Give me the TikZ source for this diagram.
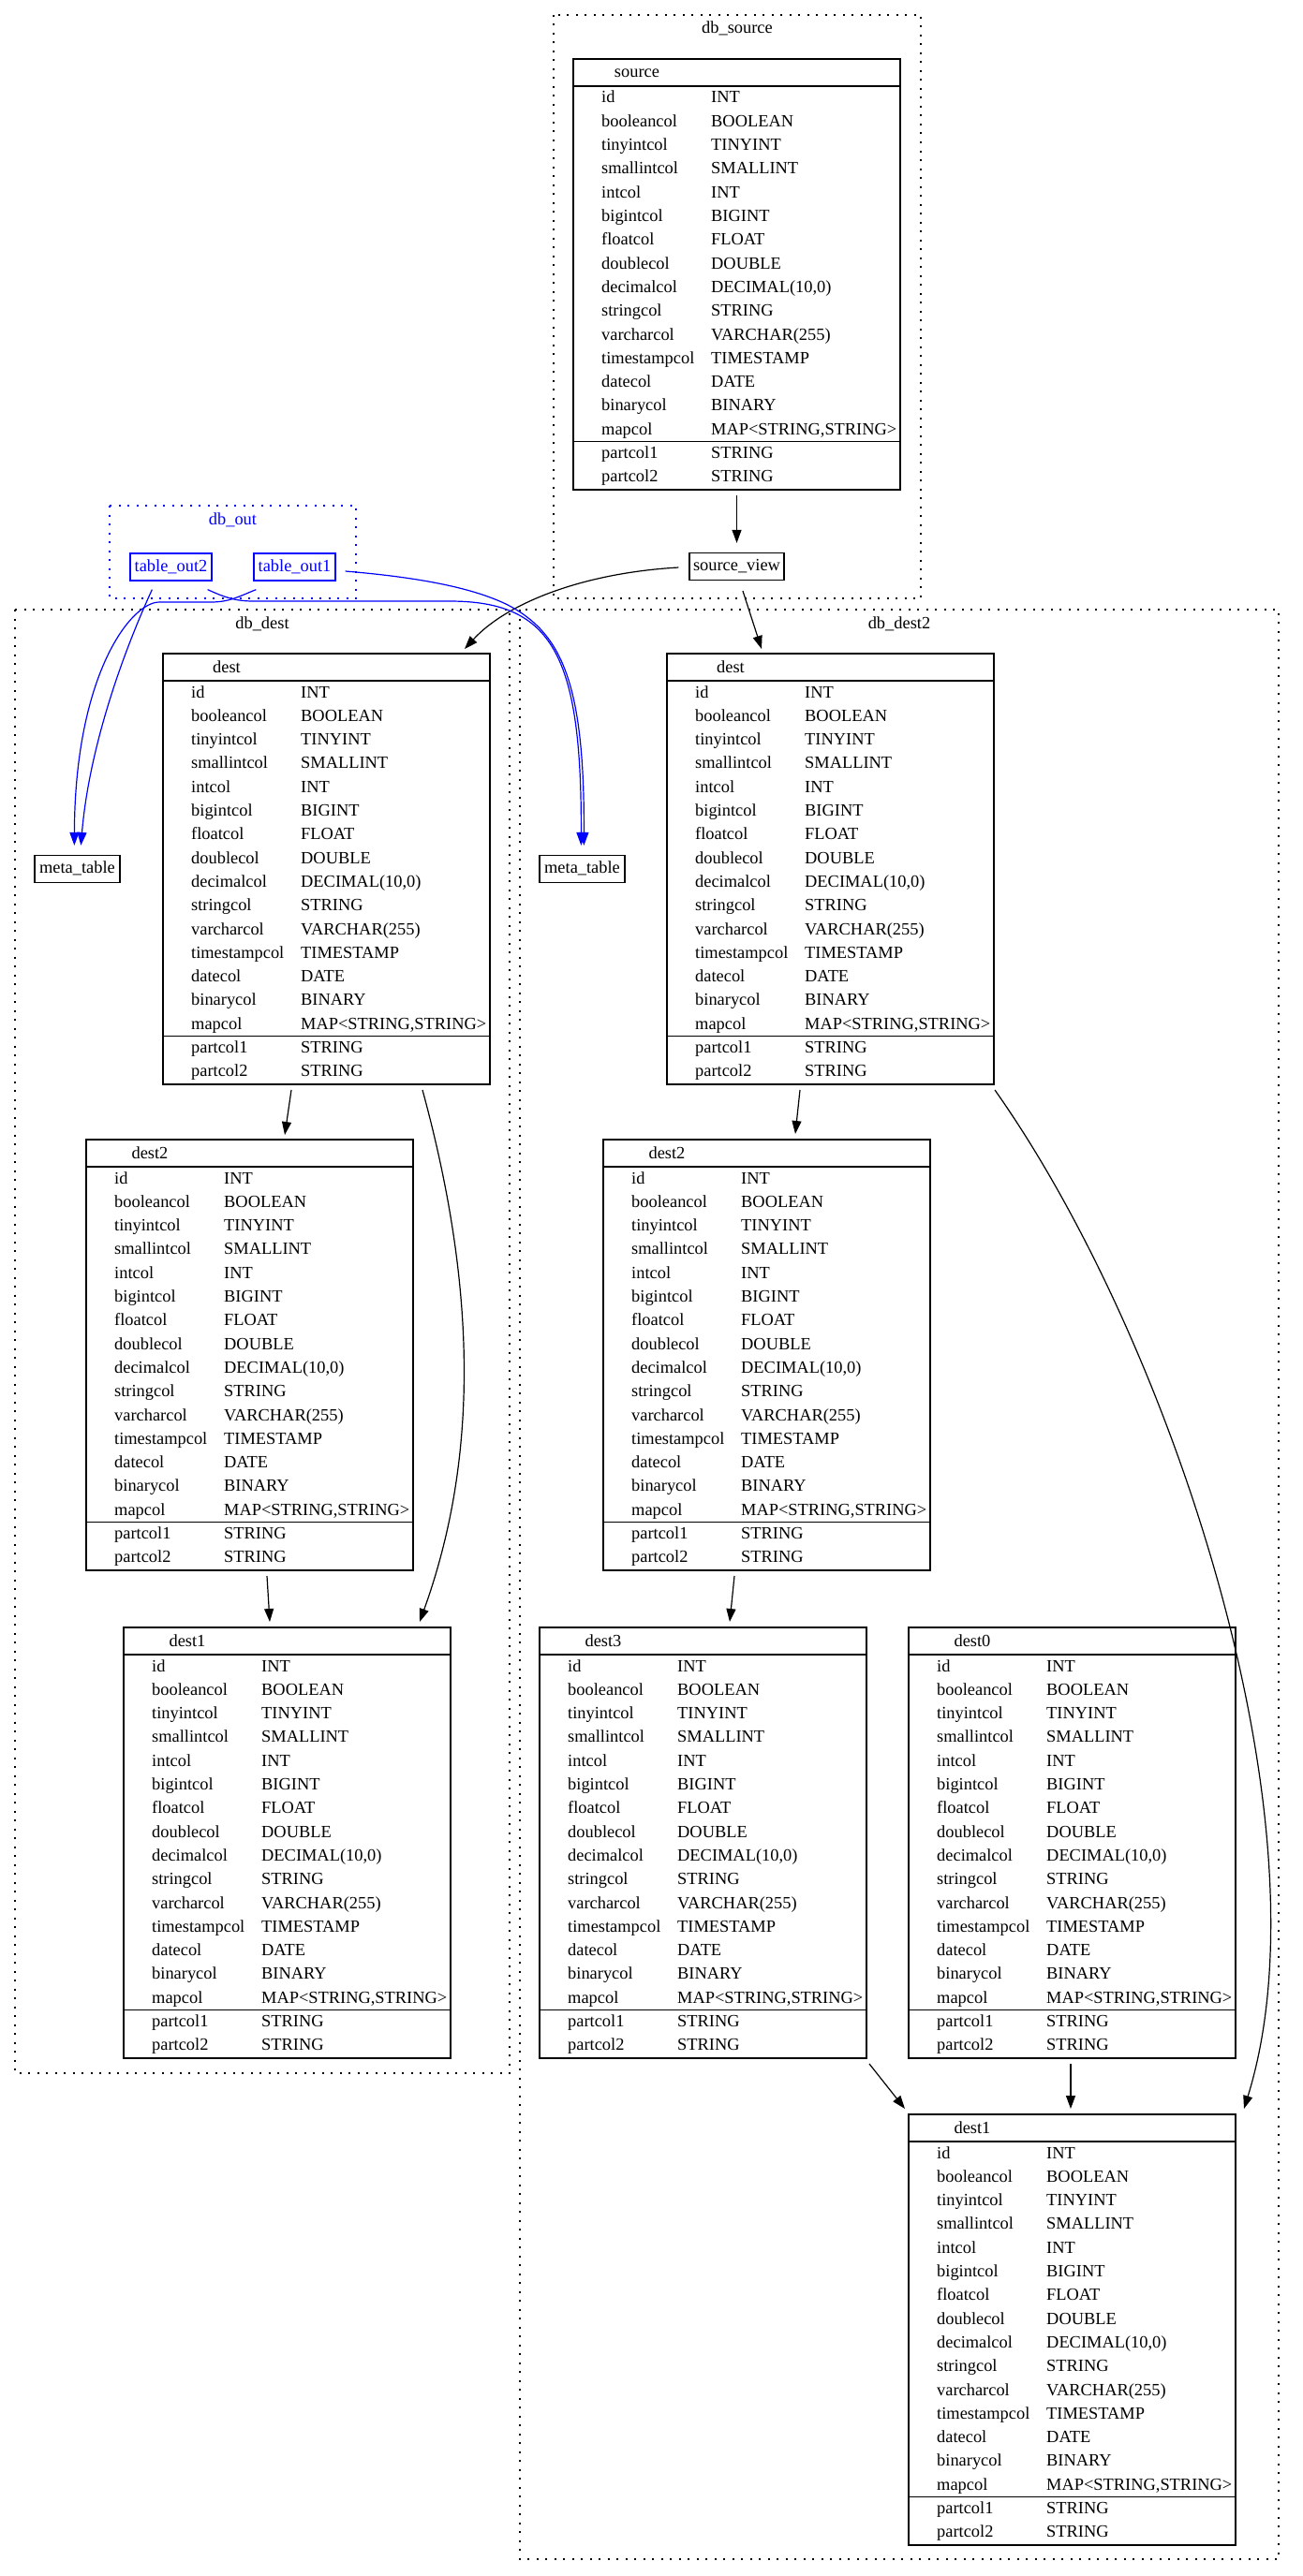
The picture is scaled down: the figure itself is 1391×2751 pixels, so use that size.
\documentclass[tikz,border=0pt]{standalone}
\usepackage{fontspec}
\setmainfont{Liberation Serif}
\usetikzlibrary{arrows.meta,calc}

\tikzset{
  lbl/.style={font=\fontsize{18.4}{22}\selectfont, inner sep=0pt},
  tbl/.style={draw, line width=1.5pt, anchor=north west, minimum width=349pt, minimum height=460pt, inner sep=0pt, outer sep=0pt},
  rule/.style={line width=1.5pt},
  hdr/.style={lbl, anchor=base},
  cell/.style={lbl, anchor=base west},
  box/.style={lbl, draw, line width=1.3pt, minimum height=29pt, text height=13pt, text depth=4pt},
  outbox/.style={box, blue, minimum width=87pt},
  cluster/.style={line width=1.5pt, dash pattern=on 2pt off 7.5pt},
  clabel/.style={lbl, anchor=base},
  edge/.style={line width=1.2pt, -{Triangle[length=14pt,width=10pt]}},
  bedge/.style={edge, blue},
}

% A table of columns: #1 node name, #2/#3 top-left corner, #4 title
\newcommand{\coltable}[4]{%
  \begin{scope}[shift={(#2,#3)}]
    \node[tbl] (#1) at (0,0) {};
    \draw[rule] (0,29) -- (349,29);
    \draw[rule] (0,408.5) -- (349,408.5);
    \node[hdr] (#1-title) at (68,20) {#4};
    \foreach \cn/\ct [count=\k from 0] in {id/INT, booleancol/BOOLEAN,
        tinyintcol/TINYINT, smallintcol/SMALLINT, intcol/INT,
        bigintcol/BIGINT, floatcol/FLOAT, doublecol/DOUBLE,
        decimalcol/{DECIMAL(10,0)}, stringcol/STRING,
        varcharcol/{VARCHAR(255)}, timestampcol/TIMESTAMP, datecol/DATE,
        binarycol/BINARY, mapcol/{MAP<STRING,STRING>},
        partcol1/STRING, partcol2/STRING} {
      \node[cell] (#1-n\k) at (30, 47+\k*25.3) {\cn};
      \node[cell] (#1-t\k) at (147, 47+\k*25.3) {\ct};
    }
  \end{scope}}

\begin{document}
\begin{tikzpicture}[x=1pt,y=-1pt]
\fill[white] (0,0) rectangle (1391,2751);
\useasboundingbox (0,0) rectangle (1391,2751);

% database clusters
\draw[cluster] (591,16) rectangle (983,639);
\node[clabel] (cl-src) at (787,36) {db\_source};
\draw[cluster, blue] (117,540) rectangle (380,639);
\node[clabel, blue] (cl-out) at (248.5,560) {db\_out};
\draw[cluster] (16,651) rectangle (544,2214);
\node[clabel] (cl-dest) at (280,671) {db\_dest};
\draw[cluster] (555,651) rectangle (1365,2733);
\node[clabel] (cl-dest2) at (960,671) {db\_dest2};

% tables
\coltable{source}{612}{63}{source}
\coltable{destL}{174}{698}{dest}
\coltable{destR}{712}{698}{dest}
\coltable{dest2L}{92}{1217}{dest2}
\coltable{dest2R}{644}{1217}{dest2}
\coltable{dest1L}{132}{1738}{dest1}
\coltable{dest3}{576}{1738}{dest3}
\coltable{dest0}{970}{1738}{dest0}
\coltable{dest1R}{970}{2258}{dest1}

% views and small tables
\node[box, minimum width=101pt] (sview) at (786.5,605) {source\_view};
\node[outbox] (tout2) at (182.5,605.5) {table\_out2};
\node[outbox] (tout1) at (314.5,605.5) {table\_out1};
\node[box, minimum width=91pt] (metaL) at (82.5,928) {meta\_table};
\node[box, minimum width=91pt] (metaR) at (621.5,928) {meta\_table};

% lineage edges
\draw[edge] ($(source.south)+(0,6)$) -- ($(sview.north)+(0,-10)$);
\draw[edge] ($(sview.west)+(-11,1)$) .. controls (620,612) and (540,645) .. ($(destL.north east)+(-27,-5)$);
\draw[edge] ($(sview.south)+(6.5,11)$) -- ($(destR.north west)+(101,-5)$);
\draw[edge] ($(destL.south west)+(137,6)$) -- ($(dest2L.north west)+(212,-5)$);
\draw[edge] ($(destL.south west)+(277,6)$) .. controls (510,1380) and (510,1560) .. ($(dest1L.north west)+(316,-6)$);
\draw[edge] ($(dest2L.south west)+(193,6)$) -- ($(dest1L.north west)+(156,-6)$);
\draw[edge] ($(destR.south west)+(142,6)$) -- ($(dest2R.north west)+(205,-6)$);
\draw[edge] ($(destR.south east)+(1,6)$) .. controls (1250,1430) and (1422,1950) .. ($(dest1R.north east)+(9,-6)$);
\draw[edge] ($(dest2R.south west)+(140,6)$) -- ($(dest3.north west)+(203,-6)$);
\draw[edge] ($(dest3.south east)+(3,6)$) -- ($(dest1R.north west)+(-4,-6)$);
\draw[edge] ($(dest0.south west)+(173,6)$) -- ($(dest1R.north west)+(173,-6)$);

% output tables to meta tables
\draw[bedge] ($(tout2.south west)+(24,9)$) .. controls (130,700) and (95,800) .. ($(metaL.north west)+(50,-10)$);
\draw[bedge] ($(tout1.south west)+(3,9)$) .. controls (255,637) and (245,643) .. (225,643) -- (170,643)
  .. controls (140,643) and (80,720) .. ($(metaL.north west)+(43,-10)$);
\draw[bedge] ($(tout2.south east)+(-5,9)$) .. controls (238,637) and (250,642) .. (270,642) -- (480,642)
  .. controls (590,642) and (621,700) .. ($(metaR.north west)+(45,-10)$);
\draw[bedge] ($(tout1.east)+(10,4.5)$) .. controls (440,616) and (500,626) .. (540,645)
  .. controls (600,675) and (624,730) .. ($(metaR.north west)+(48,-10)$);
\end{tikzpicture}
\end{document}
